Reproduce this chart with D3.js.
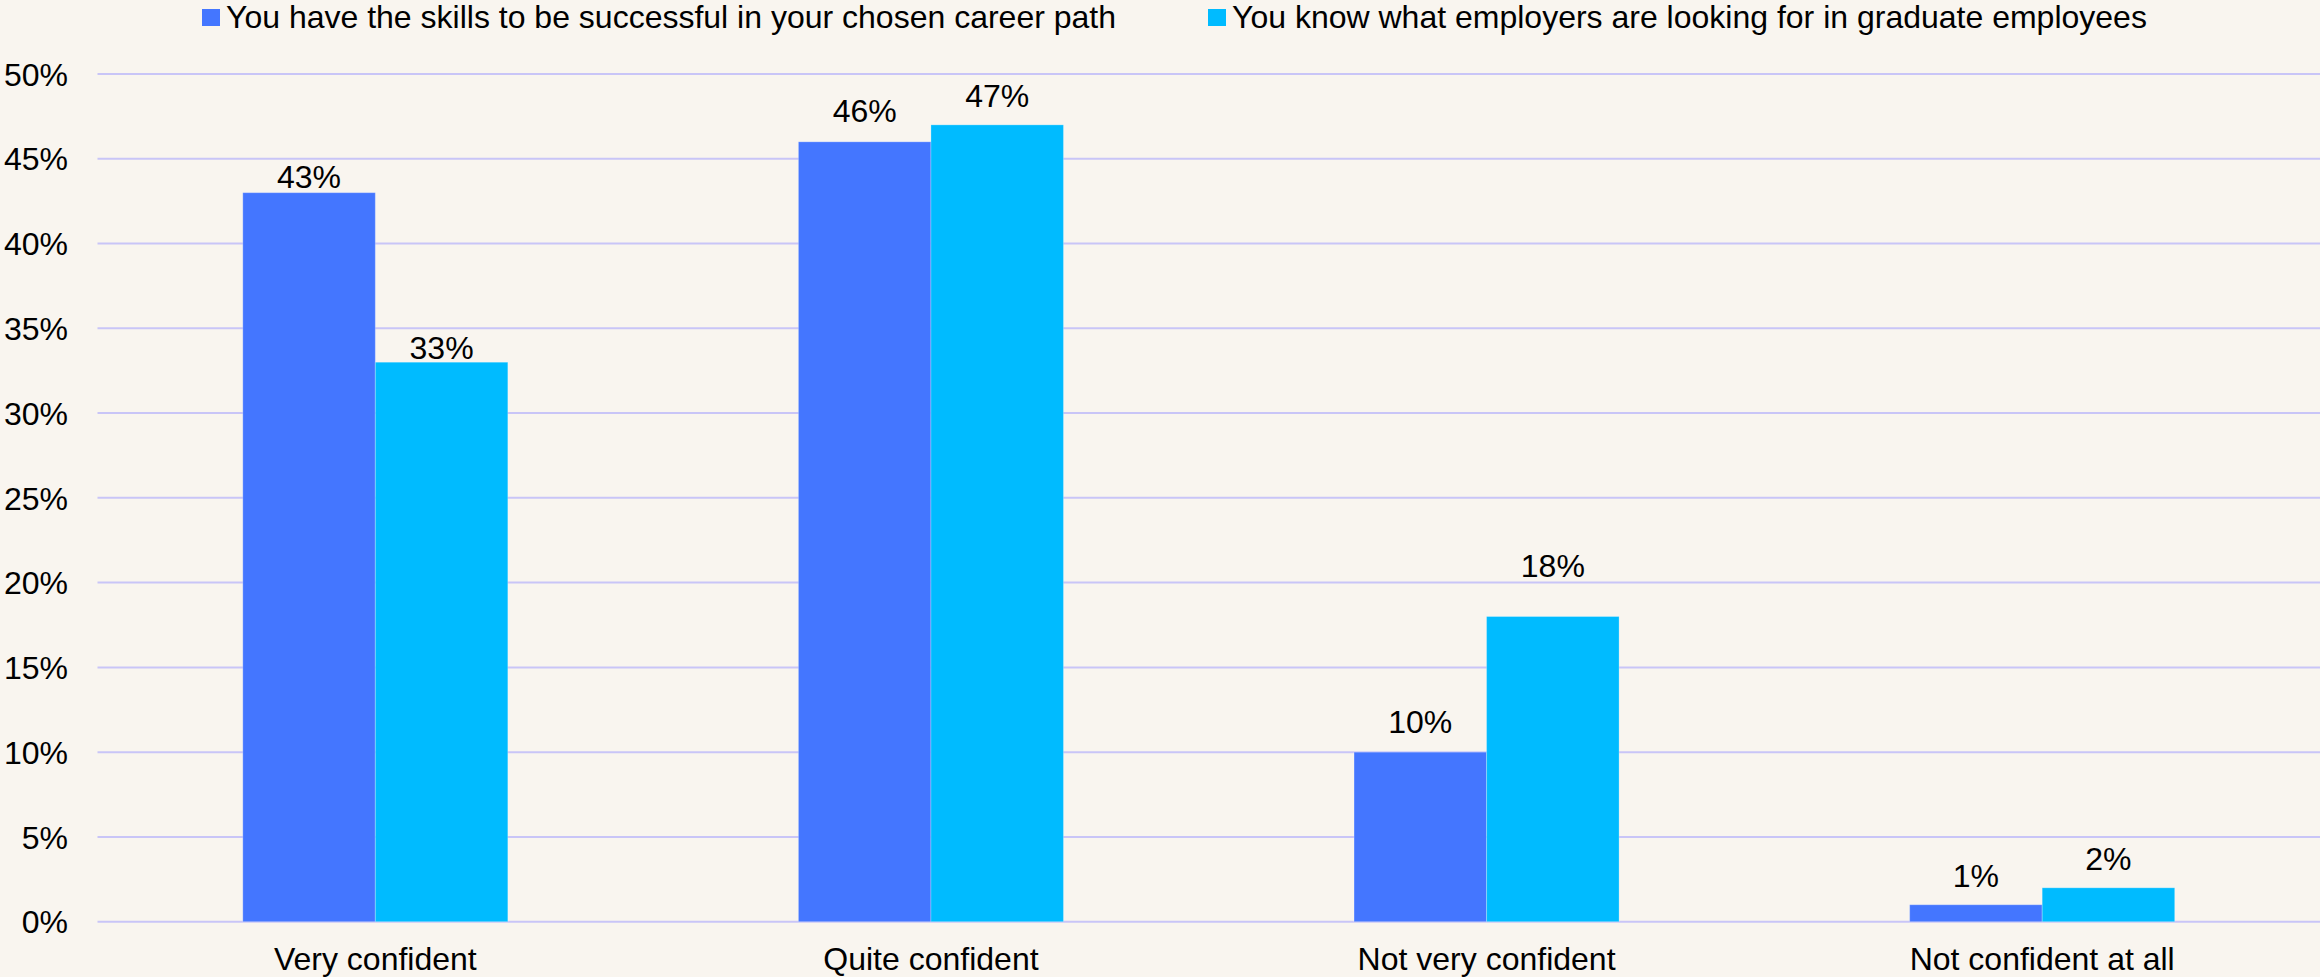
<!DOCTYPE html>
<html><head><meta charset="utf-8">
<script src="https://cdn.jsdelivr.net/npm/d3@7"></script>
<style>
html,body{margin:0;padding:0;background:#F9F5EF;}
svg{display:block;font-family:"Liberation Sans",Arial,sans-serif;}
</style></head>
<body>
<svg id="chart" width="2320" height="977"></svg>
<script>
const categories = ["Very confident","Quite confident","Not very confident","Not confident at all"];
const seriesNames = ["You have the skills to be successful in your chosen career path","You know what employers are looking for in graduate employees"];
const skillsValues = [43, 46, 10, 1];
const employersValues = [33, 47, 18, 2];
const yTicks = [0,5,10,15,20,25,30,35,40,45,50];
const colors = ["#4476FF","#00BBFF"];
// label vertical nudges (px above bar top), styling only
const labelGap = [[5,20,19,18],[3,18,40,18]];

const W = 2320, H = 977;
const FS = 32;
const m = {left:97.5, right:0, top:74, bottom:55.3};
const svg = d3.select("#chart");
svg.append("rect").attr("width",W).attr("height",H).attr("fill","#F9F5EF");

const x0 = d3.scaleBand().domain(categories).range([m.left, W-m.right]).paddingInner(0.523).paddingOuter(0.2615);
const x1 = d3.scaleBand().domain([0,1]).range([0, x0.bandwidth()]);
const y = d3.scaleLinear().domain([0,50]).range([H-m.bottom, m.top]);

// gridlines
svg.append("g").selectAll("line").data(yTicks).join("line")
  .attr("x1", m.left).attr("x2", W-m.right)
  .attr("y1", d=>y(d)).attr("y2", d=>y(d))
  .attr("stroke","#C9C5F7").attr("stroke-width",2);

// y axis labels
const yAxis = d3.axisLeft(y).tickValues(yTicks).tickFormat(d=>d+"%").tickSize(0).tickPadding(0);
const ya = svg.append("g").attr("transform",`translate(68,0)`).call(yAxis);
ya.select(".domain").remove();
ya.selectAll("text").attr("font-size",FS).attr("fill","#000").attr("font-family","Liberation Sans, Arial, sans-serif").attr("dy","0.35em");

// x axis labels
const xAxis = d3.axisBottom(x0).tickSize(0).tickPadding(0);
const xa = svg.append("g").attr("transform",`translate(0,${y(0)})`).call(xAxis);
xa.select(".domain").remove();
xa.selectAll("text").attr("font-size",FS).attr("fill","#000").attr("font-family","Liberation Sans, Arial, sans-serif").attr("y",48).attr("dy",0);

const series = [skillsValues, employersValues];
const rows = [];
categories.forEach((c,i)=>series.forEach((s,j)=>rows.push({c,i,j,v:s[i]})));

const g = svg.append("g");
g.selectAll("rect").data(rows).join("rect")
  .attr("x", d=>x0(d.c)+x1(d.j))
  .attr("y", d=>y(d.v))
  .attr("width", x1.bandwidth())
  .attr("height", d=>y(0)-y(d.v))
  .attr("fill", d=>colors[d.j])
  .attr("stroke","rgba(255,255,255,0.25)").attr("stroke-width",1);

g.selectAll("text").data(rows).join("text")
  .attr("x", d=>x0(d.c)+x1(d.j)+x1.bandwidth()/2)
  .attr("y", d=>y(d.v)-labelGap[d.j][d.i])
  .attr("text-anchor","middle")
  .attr("font-size",FS).attr("fill","#000")
  .text(d=>d.v+"%");

// legend
const legendPos = [202, 1208];
const lg = svg.append("g");
seriesNames.forEach((n,j)=>{
  lg.append("rect").attr("x",legendPos[j]).attr("y",9).attr("width",18).attr("height",17).attr("fill",colors[j]);
  lg.append("text").attr("x",legendPos[j]+24).attr("y",28).attr("font-size",FS).attr("fill","#000").text(n);
});
</script>
</body></html>
